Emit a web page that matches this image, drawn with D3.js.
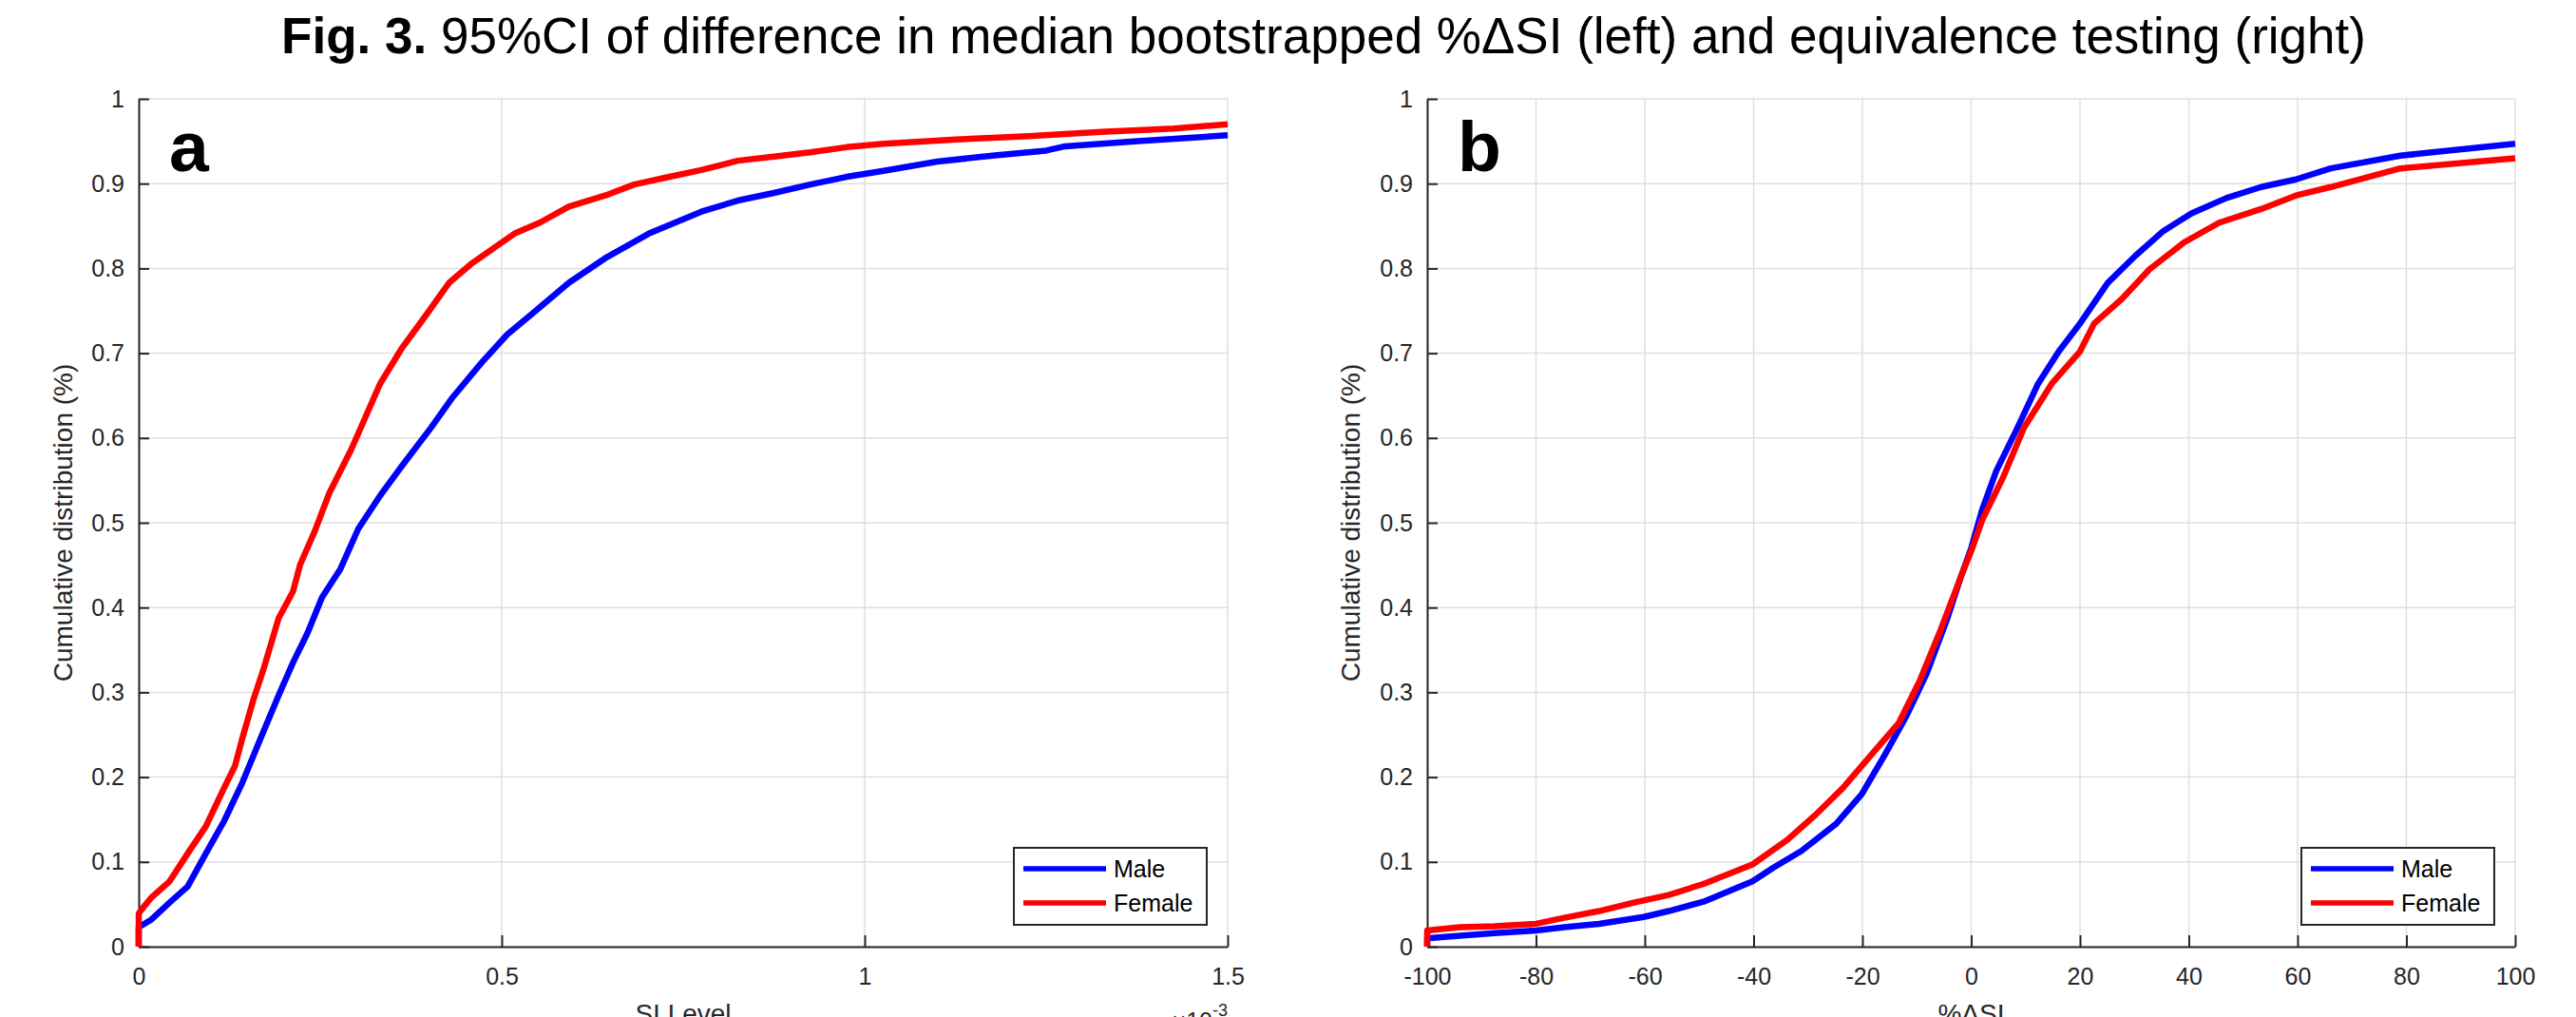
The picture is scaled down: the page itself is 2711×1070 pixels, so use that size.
<!DOCTYPE html>
<meta charset="utf-8">
<html>
<script src="https://d3js.org/d3.v7.min.js"></script>
<style>
    body { margin: 0; background: #fff; }
    text { font-family: "Liberation Sans", Arial, sans-serif; }
</style>
<body>
<div id="fig"></div>
<script>

    // tick values
    var cdfTicks = [0, 0.1, 0.2, 0.3, 0.4, 0.5, 0.6, 0.7, 0.8, 0.9, 1];
    var siTicks = [0, 0.5, 1, 1.5];
    var deltaTicks = [-100, -80, -60, -40, -20, 0, 20, 40, 60, 80, 100];
    var seriesNames = ["Male", "Female"];

    // panel a: SI level (x10^-3) vs cumulative distribution
    var maleA = [[0, 0], [0, 0.023], [0.0175, 0.032], [0.0425, 0.052], [0.0675, 0.071], [0.0925, 0.110],
        [0.1175, 0.148], [0.1425, 0.193], [0.1675, 0.245], [0.1925, 0.296], [0.2125, 0.335], [0.2325, 0.370],
        [0.2525, 0.412], [0.2775, 0.445], [0.3025, 0.493], [0.3325, 0.532], [0.3625, 0.567], [0.4025, 0.612],
        [0.4325, 0.648], [0.4725, 0.689], [0.5075, 0.722], [0.5425, 0.747], [0.5925, 0.783], [0.6425, 0.812],
        [0.7025, 0.841], [0.775, 0.867], [0.825, 0.880], [0.875, 0.889], [0.925, 0.899], [0.975, 0.908],
        [1.026, 0.915], [1.10, 0.926], [1.176, 0.933], [1.25, 0.939], [1.276, 0.944], [1.376, 0.950], [1.50, 0.957]];
    var femaleA = [[0, 0], [0, 0.039], [0.005, 0.045], [0.0175, 0.058], [0.0425, 0.077], [0.0675, 0.110],
        [0.0925, 0.142], [0.1175, 0.187], [0.1325, 0.213], [0.1425, 0.245], [0.1575, 0.290], [0.1725, 0.329],
        [0.1925, 0.387], [0.2125, 0.419], [0.2225, 0.451], [0.2425, 0.490], [0.2625, 0.535], [0.2925, 0.586],
        [0.3125, 0.625], [0.3325, 0.664], [0.3625, 0.706], [0.3925, 0.741], [0.4275, 0.783], [0.4575, 0.805],
        [0.4925, 0.826], [0.5175, 0.841], [0.5525, 0.854], [0.5925, 0.873], [0.6425, 0.886], [0.6825, 0.899],
        [0.725, 0.907], [0.775, 0.916], [0.825, 0.927], [0.875, 0.932], [0.925, 0.937], [0.975, 0.943],
        [1.026, 0.947], [1.126, 0.952], [1.226, 0.956], [1.326, 0.961], [1.426, 0.965], [1.50, 0.970]];

    // panel b: %deltaSI vs cumulative distribution
    var maleB = [[-100, 0], [-100, 0.0097], [-94, 0.013], [-87.6, 0.016], [-80, 0.019], [-74.8, 0.023],
        [-68.4, 0.027], [-60.2, 0.035], [-55.6, 0.042], [-49.2, 0.053], [-40.2, 0.077], [-36.4, 0.093],
        [-31.2, 0.113], [-24.8, 0.145], [-20.1, 0.180], [-15.9, 0.226], [-12.0, 0.271], [-8.2, 0.322],
        [-4.4, 0.387], [-1.8, 0.438], [0, 0.470], [2.0, 0.515], [4.6, 0.561], [8.5, 0.612], [12.3, 0.664],
        [16.1, 0.702], [20.0, 0.735], [25.1, 0.783], [30.2, 0.815], [35.3, 0.844], [40.5, 0.865],
        [46.9, 0.883], [53.3, 0.896], [59.7, 0.905], [66.1, 0.918], [78.9, 0.933], [100, 0.947]];
    var femaleB = [[-100, 0], [-100, 0.019], [-94, 0.023], [-87.6, 0.024], [-80, 0.027], [-74.8, 0.034],
        [-68.4, 0.042], [-62, 0.052], [-55.6, 0.061], [-49.2, 0.074], [-40.2, 0.097], [-33.8, 0.126],
        [-28.7, 0.155], [-23.6, 0.187], [-18.4, 0.226], [-13.3, 0.264], [-9.5, 0.313], [-5.6, 0.374],
        [-1.8, 0.438], [0.2, 0.470], [2.0, 0.503], [5.9, 0.554], [9.7, 0.612], [14.8, 0.664], [20.0, 0.702],
        [22.6, 0.735], [27.7, 0.764], [32.8, 0.799], [39.2, 0.831], [45.6, 0.854], [53.3, 0.870],
        [59.7, 0.886], [66.1, 0.896], [78.9, 0.918], [100, 0.930]];

    var colors = ["#0000ff", "#ff0000"];
    var axisColor = "#262626";
    var gridColor = "#dfdfdf";

    var width = 2711, height = 1070;
    var plotTop = 104, plotBottom = 996;

    var svg = d3.select("#fig")
        .append("svg")
        .attr("width", width)
        .attr("height", height);

    // title
    var title = svg.append("text")
        .attr("x", 1393)
        .attr("y", 56)
        .attr("text-anchor", "middle")
        .attr("font-size", 53)
        .attr("fill", "#000");
    title.append("tspan").attr("font-weight", "bold").text("Fig. 3.");
    title.append("tspan").text(" 95%CI of difference in median bootstrapped %\u0394SI (left) and equivalence testing (right)");

    function drawPanel(opt) {
        var x = d3.scaleLinear().domain(opt.xDomain).range([opt.left, opt.right]);
        var y = d3.scaleLinear().domain([0, 1]).range([plotBottom, plotTop]);
        var g = svg.append("g");
        var fmt = function (d) { return String(d); };

        // grid
        g.selectAll(".gx").data(opt.xTicks).enter().append("line")
            .attr("x1", function (d) { return x(d); }).attr("x2", function (d) { return x(d); })
            .attr("y1", plotTop).attr("y2", plotBottom)
            .attr("stroke", gridColor).attr("stroke-width", 1.5);
        g.selectAll(".gy").data(cdfTicks).enter().append("line")
            .attr("x1", opt.left).attr("x2", opt.right)
            .attr("y1", function (d) { return y(d); }).attr("y2", function (d) { return y(d); })
            .attr("stroke", gridColor).attr("stroke-width", 1.5);

        // axes
        var xAxis = g.append("g")
            .attr("transform", "translate(0," + plotBottom + ")")
            .call(d3.axisBottom(x).tickValues(opt.xTicks).tickFormat(fmt).tickSizeInner(-12).tickSizeOuter(0).tickPadding(22));
        var yAxis = g.append("g")
            .attr("transform", "translate(" + opt.left + ",0)")
            .call(d3.axisLeft(y).tickValues(cdfTicks).tickFormat(fmt).tickSizeInner(-11).tickSizeOuter(0).tickPadding(15));
        [xAxis, yAxis].forEach(function (a) {
            a.select(".domain").attr("stroke", axisColor).attr("stroke-width", 2);
            a.selectAll(".tick line").attr("stroke", axisColor).attr("stroke-width", 2);
            a.selectAll(".tick text").attr("fill", axisColor).attr("font-size", 25)
                .style("font-family", "'Liberation Sans', Arial, sans-serif");
        });

        // axis labels
        g.append("text")
            .attr("transform", "translate(" + opt.yLabelX + "," + ((plotTop + plotBottom) / 2) + ") rotate(-90)")
            .attr("text-anchor", "middle")
            .attr("font-size", 28)
            .attr("fill", axisColor)
            .text("Cumulative distribution (%)");
        g.append("text")
            .attr("x", (opt.left + opt.right) / 2)
            .attr("y", 1076)
            .attr("text-anchor", "middle")
            .attr("font-size", 28)
            .attr("fill", axisColor)
            .text(opt.xLabel);

        // curves
        var clipId = "clip" + opt.tag;
        svg.append("clipPath").attr("id", clipId).append("rect")
            .attr("x", opt.left - 4).attr("y", plotTop - 4)
            .attr("width", opt.right - opt.left + 8).attr("height", plotBottom - plotTop + 8);
        var line = d3.line()
            .x(function (d) { return x(d[0]); })
            .y(function (d) { return y(d[1]); });
        opt.series.forEach(function (s, i) {
            g.append("path")
                .datum(s)
                .attr("clip-path", "url(#" + clipId + ")")
                .attr("fill", "none")
                .attr("stroke", colors[i])
                .attr("stroke-width", 6.5)
                .attr("stroke-linejoin", "round")
                .attr("d", line);
        });

        // panel letter
        g.append("text")
            .attr("x", opt.left + 32)
            .attr("y", 180)
            .attr("font-size", 75)
            .attr("font-weight", "bold")
            .attr("fill", "#000")
            .text(opt.tag);

        // legend
        var lx = opt.right - 225, ly = 892;
        var legend = g.append("g");
        legend.append("rect")
            .attr("x", lx).attr("y", ly).attr("width", 203).attr("height", 81)
            .attr("fill", "#fff").attr("stroke", axisColor).attr("stroke-width", 2);
        seriesNames.forEach(function (name, i) {
            var yy = ly + 22 + i * 36;
            legend.append("line")
                .attr("x1", lx + 10).attr("x2", lx + 97)
                .attr("y1", yy).attr("y2", yy)
                .attr("stroke", colors[i]).attr("stroke-width", 5.5);
            legend.append("text")
                .attr("x", lx + 105).attr("y", yy + 9)
                .attr("font-size", 25)
                .attr("fill", "#000")
                .text(name);
        });
        return g;
    }

    var ga = drawPanel({
        tag: "a", left: 146, right: 1292, xDomain: [0, 1.5], xTicks: siTicks,
        xLabel: "SI Level", yLabelX: 76, series: [maleA, femaleA]
    });
    drawPanel({
        tag: "b", left: 1502, right: 2647, xDomain: [-100, 100], xTicks: deltaTicks,
        xLabel: "%\u0394SI", yLabelX: 1431, series: [maleB, femaleB]
    });

    // exponent label of panel a
    var expo = ga.append("text")
        .attr("x", 1292)
        .attr("y", 1083)
        .attr("text-anchor", "end")
        .attr("font-size", 25)
        .attr("fill", axisColor);
    expo.append("tspan").text("\u00d710");
    expo.append("tspan").attr("font-size", 18).attr("dy", -14).text("-3");

</script>
</body>
</html>
